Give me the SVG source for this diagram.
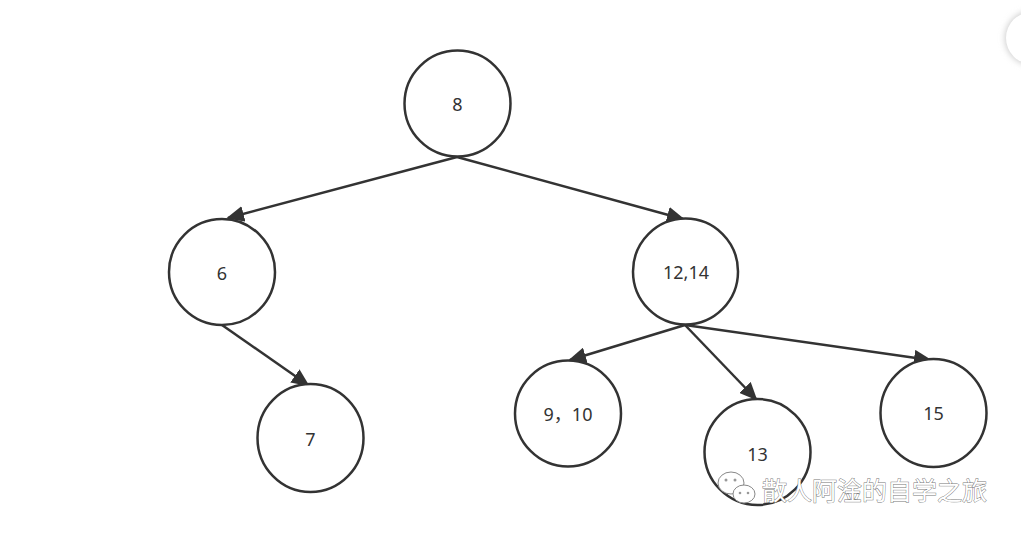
<svg xmlns="http://www.w3.org/2000/svg" width="1021" height="536" viewBox="0 0 1021 536">
<style>
.node ellipse{fill:#fff;stroke:#333;stroke-width:2.5}
.node text{font-family:"Noto Sans","Noto Sans CJK SC",sans-serif;font-size:18px;fill:#333;text-anchor:middle;dominant-baseline:central}
.edge{stroke:#333;stroke-width:2.5;fill:none;marker-end:url(#arr)}
.wm{font-family:"Noto Sans CJK SC",sans-serif;font-size:25px;fill:#fff;stroke:#777;stroke-width:0.9;paint-order:stroke}
</style>
<defs>
<marker id="arr" markerUnits="userSpaceOnUse" markerWidth="18" markerHeight="16" refX="16" refY="8" orient="auto">
<path d="M0,0 L18,8 L0,16 z" fill="#333"/>
</marker>
<filter id="sh" x="-50%" y="-50%" width="200%" height="200%">
<feGaussianBlur stdDeviation="3"/>
</filter>
</defs>
<rect width="1021" height="536" fill="#fff"/>
<circle cx="1032" cy="38" r="27" fill="#ccc" filter="url(#sh)"/>
<circle cx="1032" cy="38" r="26" fill="#fff"/>
<g id="connectors">
<line class="edge" x1="457" y1="157" x2="228" y2="218"/>
<line class="edge" x1="457" y1="157" x2="683" y2="219"/>
<line class="edge" x1="222" y1="325" x2="308" y2="385"/>
<line class="edge" x1="685" y1="325" x2="570" y2="360"/>
<line class="edge" x1="685" y1="325" x2="756" y2="399"/>
<line class="edge" x1="685" y1="325" x2="930" y2="360"/>
</g>
<g id="n8" class="node"><ellipse cx="457.5" cy="103.5" rx="53" ry="53"/><text x="457.5" y="104">8</text></g>
<g id="n6" class="node"><ellipse cx="222" cy="272" rx="53" ry="53"/><text x="222" y="273">6</text></g>
<g id="n1214" class="node"><ellipse cx="685.5" cy="271.5" rx="52.5" ry="53"/><text x="686" y="272">12,14</text></g>
<g id="n7" class="node"><ellipse cx="310.5" cy="438" rx="53" ry="54"/><text x="310.5" y="439">7</text></g>
<g id="n910" class="node"><ellipse cx="568" cy="413.5" rx="53" ry="53"/><text x="568" y="414">9，10</text></g>
<g id="n13" class="node"><ellipse cx="757.5" cy="452" rx="53" ry="53"/><text x="757.5" y="454">13</text></g>
<g id="n15" class="node"><ellipse cx="933.5" cy="413" rx="53" ry="54"/><text x="933.5" y="413">15</text></g>
<g id="watermark">
<g fill="#fff" stroke="#888" stroke-width="1">
<ellipse cx="731" cy="483" rx="13" ry="11"/>
<ellipse cx="744" cy="494" rx="11" ry="9"/>
</g>
<g fill="#999"><circle cx="726" cy="480" r="1.5"/><circle cx="735" cy="480" r="1.5"/><circle cx="740" cy="493" r="1.3"/><circle cx="748" cy="493" r="1.3"/></g>
<text class="wm" x="762" y="500">散人阿淦的自学之旅</text>
</g>
</svg>
